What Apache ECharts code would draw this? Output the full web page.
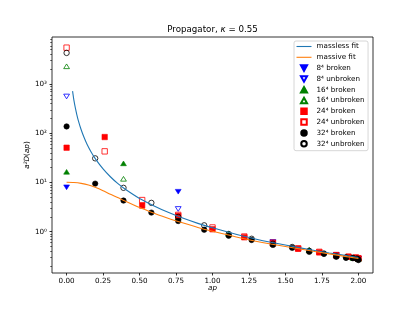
<!DOCTYPE html>
<html><head><meta charset="utf-8">
<script src="https://cdn.jsdelivr.net/npm/echarts@6/dist/echarts.min.js"></script>
<style>html,body{margin:0;padding:0;background:#fff}#c{width:415px;height:312px}</style>
</head><body><div id="c"></div>
<script>
const xTicks = [0, 0.25, 0.5, 0.75, 1.0, 1.25, 1.5, 1.75, 2.0];
const yTicks = [1, 10, 100, 1000];
const yMinorTicks = [0.2,0.3,0.4,0.5,0.6,0.7,0.8,0.9, 2,3,4,5,6,7,8,9, 20,30,40,50,60,70,80,90, 200,300,400,500,600,700,800,900, 2000,3000,4000,5000,6000,7000,8000];

const masslessX = [0.041,0.05,0.06,0.07,0.08,0.1,0.12,0.14,0.17,0.2,0.25,0.3,0.35,0.4,0.5,0.6,0.7,0.8,0.9,1.0,1.2,1.4,1.6,1.8,2.0];
const masslessY = [720,472,328,241,184,118,82,60,40.8,29.5,18.9,13.1,9.6,7.4,4.75,3.35,2.45,1.87,1.48,1.2,0.83,0.61,0.47,0.37,0.3];
const massiveX = [0,0.05,0.1,0.15,0.2,0.25,0.3,0.35,0.4,0.5,0.6,0.7,0.8,0.9,1.0,1.2,1.4,1.6,1.8,2.0];
const massiveY = [10.1,10.0,9.6,8.9,7.9,6.8,5.75,4.95,4.2,3.1,2.38,1.86,1.5,1.22,1.02,0.74,0.565,0.445,0.355,0.285];

const p8 = [0, 0.765, 1.414, 1.848, 2.0];
const d8broken = [8.0, 6.5, 0.6, 0.33, 0.28];
const d8unbroken = [560, 2.9, 0.62, 0.34, 0.285];
const p16 = [0, 0.390, 0.765, 1.111, 1.414, 1.663, 1.848, 1.962, 2.0];
const d16broken = [16.5, 24.5, 2.0, 0.9, 0.57, 0.42, 0.33, 0.295, 0.28];
const d16unbroken = [2300, 11.9, 1.95, 0.92, 0.59, 0.43, 0.34, 0.3, 0.285];
const p24 = [0, 0.261, 0.518, 0.765, 1.0, 1.218, 1.414, 1.587, 1.732, 1.848, 1.932, 1.983, 2.0];
const d24broken = [51, 84, 3.4, 2.1, 1.12, 0.77, 0.58, 0.45, 0.38, 0.33, 0.31, 0.295, 0.285];
const d24unbroken = [5500, 43, 4.4, 2.2, 1.22, 0.8, 0.6, 0.46, 0.39, 0.335, 0.31, 0.3, 0.29];
const p32 = [0, 0.196, 0.390, 0.581, 0.765, 0.943, 1.111, 1.268, 1.414, 1.546, 1.663, 1.764, 1.848, 1.915, 1.962, 1.990, 2.0];
const d32broken = [138, 9.5, 4.3, 2.45, 1.65, 1.1, 0.83, 0.68, 0.54, 0.47, 0.39, 0.355, 0.31, 0.295, 0.29, 0.28, 0.265];
const d32unbroken = [4300, 31, 7.8, 3.86, 2.0, 1.35, 0.9, 0.72, 0.57, 0.49, 0.41, 0.36, 0.32, 0.3, 0.295, 0.285, 0.275];

const FONT = 'DejaVu Sans';
const FS = 7.2;
const zip = (xs, ys) => xs.map((x, i) => [x, ys[i]]);

const SYM = {
  down: 'path://M0,0 L10,0 L5,9 Z',
  up: 'path://M5,0 L10,9 L0,9 Z',
  rect: 'path://M0,0 L10,0 L10,10 L0,10 Z',
  circle: 'circle',
  line: 'path://M0,0 L15,0 L15,1.1 L0,1.1 Z'
};

function sc(name, xs, ys, color, kind, filled) {
  return {
    name, type: 'scatter', data: zip(xs, ys),
    symbol: SYM[kind], symbolSize: (kind === 'down' || kind === 'up') ? [5.8, 5.2] : 5.4, symbolKeepAspect: true,
    itemStyle: filled ? {color: color, borderColor: color, borderWidth: 0.6, opacity: 1}
                      : {color: 'rgba(0,0,0,0)', borderColor: color, borderWidth: 0.8, opacity: 1},
    emphasis: {disabled: true}, animation: false
  };
}
function ln(name, xs, ys, color) {
  return {
    name, type: 'line', data: zip(xs, ys), showSymbol: false, symbol: 'none',
    smooth: 0.2, lineStyle: {color, width: 1.1}, itemStyle: {color},
    emphasis: {disabled: true}, animation: false
  };
}

const legendItems = [
  ['massless fit', 'line'], ['massive fit', 'line'],
  ['8⁴ broken', 'down'], ['8⁴ unbroken', 'down'],
  ['16⁴ broken', 'up'], ['16⁴ unbroken', 'up'],
  ['24⁴ broken', 'rect'], ['24⁴ unbroken', 'rect'],
  ['32⁴ broken', 'circle'], ['32⁴ unbroken', 'circle']
];

const chart = echarts.init(document.getElementById('c'), null, {renderer: 'canvas'});
chart.setOption({
  animation: false,
  backgroundColor: '#fff',
  textStyle: {fontFamily: FONT},
  title: {
    text: '{a|Propagator, }{b|κ}{a| = 0.55}',
    left: 212.5, top: 25, textAlign: 'center', padding: 0,
    textStyle: {fontWeight: 'normal', rich: {
      a: {fontFamily: FONT, fontSize: 8.7, fontWeight: 'normal', color: '#000'},
      b: {fontFamily: FONT, fontSize: 8.7, fontWeight: 'normal', fontStyle: 'italic', color: '#000'}
    }}
  },
  grid: {left: 52, right: 42, top: 37, bottom: 39, show: true, borderColor: '#000', borderWidth: 0.8, backgroundColor: 'transparent'},
  legend: {
    orient: 'vertical', left: 294, top: 41,
    padding: [1, 3.5, 2.5, 2.5],
    itemWidth: 15, itemHeight: 5.5, itemGap: 1.8,
    symbolRotate: 0, symbolKeepAspect: true,
    backgroundColor: 'rgba(255,255,255,0.8)', borderColor: '#cccccc', borderWidth: 0.8, borderRadius: 2,
    textStyle: {fontFamily: FONT, fontSize: FS, color: '#000', lineHeight: 9, padding: [0,0,0,0]},
    data: legendItems.map(([n, k]) => ({name: n, icon: SYM[k]}))
  },
  xAxis: {
    type: 'value', min: -0.1, max: 2.1,
    name: 'ap', nameLocation: 'middle', nameGap: 12, nameMoveOverlap: false,
    nameTextStyle: {fontFamily: FONT, fontSize: FS, fontStyle: 'italic', color: '#000'},
    axisLine: {show: false, onZero: false},
    axisTick: {show: true, inside: false, length: 2.5, lineStyle: {color: '#000', width: 0.8}, customValues: xTicks},
    axisLabel: {show: true, margin: 5, fontFamily: FONT, fontSize: FS, color: '#000', customValues: xTicks, formatter: v => v.toFixed(2)},
    splitLine: {show: false}
  },
  yAxis: [{
    type: 'log', logBase: 10, min: 0.145, max: 9060,
    name: '{i|a²D}{n|(}{i|ap}{n|)}', nameLocation: 'middle', nameGap: 21, nameMoveOverlap: false,
    nameTextStyle: {rich: {
      i: {fontFamily: FONT, fontSize: FS, fontStyle: 'italic', color: '#000'},
      n: {fontFamily: FONT, fontSize: FS, color: '#000'}
    }},
    axisLine: {show: false, onZero: false},
    axisTick: {show: true, inside: false, length: 2.5, lineStyle: {color: '#000', width: 0.8}, customValues: yTicks},
    axisLabel: {show: true, margin: 5, fontFamily: FONT, fontSize: FS, color: '#000', customValues: yTicks,
      formatter: v => '10' + ['⁰','¹','²','³'][Math.round(Math.log10(v))]},
    splitLine: {show: false}, minorTick: {show: false}
  }, {
    type: 'log', logBase: 10, min: 0.145, max: 9060, position: 'left', offset: 0,
    axisLine: {show: false, onZero: false},
    axisTick: {show: true, inside: false, length: 1.8, lineStyle: {color: '#000', width: 0.6}, customValues: yMinorTicks},
    axisLabel: {show: false},
    splitLine: {show: false}
  }],
  series: [
    ln('massless fit', masslessX, masslessY, '#1f77b4'),
    ln('massive fit', massiveX, massiveY, '#ff7f0e'),
    sc('8⁴ broken', p8, d8broken, '#0000ff', 'down', true),
    sc('8⁴ unbroken', p8, d8unbroken, '#0000ff', 'down', false),
    sc('16⁴ broken', p16, d16broken, '#008000', 'up', true),
    sc('16⁴ unbroken', p16, d16unbroken, '#008000', 'up', false),
    sc('24⁴ broken', p24, d24broken, '#ff0000', 'rect', true),
    sc('24⁴ unbroken', p24, d24unbroken, '#ff0000', 'rect', false),
    sc('32⁴ broken', p32, d32broken, '#000000', 'circle', true),
    sc('32⁴ unbroken', p32, d32unbroken, '#000000', 'circle', false)
  ]
});
</script></body></html>
